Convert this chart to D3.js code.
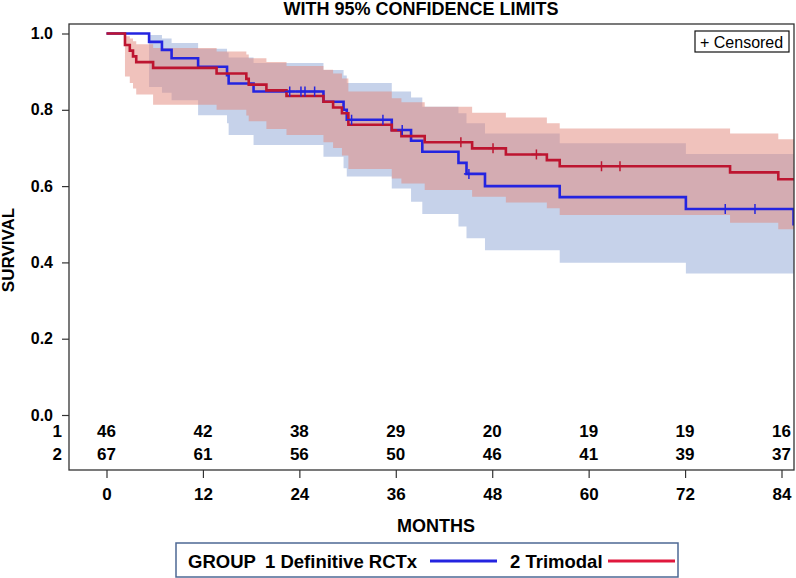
<!DOCTYPE html>
<html>
<head>
<meta charset="utf-8">
<script src="https://cdn.jsdelivr.net/npm/d3@7"></script>
<style>
  body { margin: 0; background: #fff; }
  svg { font-family: "Liberation Sans", Arial, sans-serif; }
</style>
</head>
<body>
<div class="km-container"></div>
<script>
// at-risk table
const months = [0, 12, 24, 36, 48, 60, 72, 84]
const atRisk1 = [46, 42, 38, 29, 20, 19, 19, 16]
const atRisk2 = [67, 61, 56, 50, 46, 41, 39, 37]
const yTicks = [0, 0.2, 0.4, 0.6, 0.8, 1.0]

// group 1 - Definitive RCTx (step values)
const blueTime = [0, 5.3, 6.9, 8.1, 11.4, 15.0, 15.2, 18.3, 27.0, 29.5, 29.9, 35.5, 37.9, 39.3, 43.8, 44.8, 47.1, 56.4, 72.1, 85.5]
const blueSurv = [1, 0.978, 0.957, 0.935, 0.913, 0.891, 0.869, 0.848, 0.821, 0.800, 0.774, 0.747, 0.719, 0.690, 0.661, 0.632, 0.600, 0.571, 0.540, 0.500]
const blueLow  = [1, 0.86, 0.845, 0.825, 0.786, 0.765, 0.734, 0.708, 0.677, 0.647, 0.625, 0.594, 0.559, 0.527, 0.494, 0.463, 0.432, 0.399, 0.371, 0.33]
const blueUp   = [1, 0.996, 0.987, 0.975, 0.96, 0.95, 0.937, 0.923, 0.904, 0.89, 0.87, 0.848, 0.832, 0.808, 0.791, 0.765, 0.738, 0.712, 0.684, 0.65]
const blueCensor = [22.8, 24.2, 24.7, 25.9, 30.5, 34.4, 36.8, 45.1, 77.0, 80.7]

// group 2 - Trimodal
const redTime = [0, 2.3, 2.9, 3.3, 3.7, 5.8, 13.7, 17.4, 17.7, 19.9, 22.4, 27.0, 28.2, 29.3, 30.1, 35.5, 36.7, 39.6, 45.5, 49.7, 54.8, 56.4, 77.6, 83.6]
const redSurv = [1, 0.970, 0.955, 0.940, 0.925, 0.910, 0.895, 0.881, 0.866, 0.851, 0.836, 0.821, 0.806, 0.791, 0.761, 0.746, 0.731, 0.715, 0.699, 0.683, 0.668, 0.652, 0.636, 0.618]
const redLow  = [1, 0.887, 0.87, 0.856, 0.84, 0.813, 0.80, 0.785, 0.77, 0.75, 0.734, 0.715, 0.70, 0.68, 0.645, 0.62, 0.607, 0.59, 0.572, 0.557, 0.542, 0.524, 0.504, 0.487]
const redUp   = [1, 0.993, 0.987, 0.98, 0.972, 0.962, 0.953, 0.945, 0.935, 0.925, 0.915, 0.905, 0.895, 0.882, 0.848, 0.83, 0.82, 0.808, 0.792, 0.78, 0.765, 0.751, 0.738, 0.723]
const redCensor = [44.1, 48.1, 53.5, 61.6, 63.9]

const blueLine = '#2424e0'
const redLine = '#bd1530'

function steps(time, surv, low, up, tEnd) {
    const rows = time.map((t, i) => ({ t: t, s: surv[i], lo: low[i], hi: up[i] }))
    const last = rows[rows.length - 1]
    rows.push({ t: tEnd, s: last.s, lo: last.lo, hi: last.hi })
    return rows
}

function survAt(time, surv, t) {
    let v = surv[0]
    time.forEach((tt, i) => { if (tt <= t) v = surv[i] })
    return v
}

function ready() {
    const W = 796, H = 578
    const frame = { left: 69, top: 24, right: 794, bottom: 470 }

    const xScale = d3.scaleLinear().domain([0, 84]).range([106.5, 781.5])
    const yScale = d3.scaleLinear().domain([0, 1]).range([415, 33.5])

    const svg = d3.select('.km-container')
        .append('svg')
        .attr('width', W)
        .attr('height', H)

    svg.append('defs').append('clipPath').attr('id', 'plotclip')
        .append('rect')
        .attr('x', frame.left).attr('y', frame.top)
        .attr('width', frame.right - frame.left)
        .attr('height', frame.bottom - frame.top)

    // Title.
    svg.append('text')
        .attr('x', 421).attr('y', 15)
        .attr('text-anchor', 'middle')
        .style('font-weight', 'bold').style('font-size', '18px')
        .text('WITH 95% CONFIDENCE LIMITS')

    const plot = svg.append('g').attr('clip-path', 'url(#plotclip)')

    const blueData = steps(blueTime, blueSurv, blueLow, blueUp, 90)
    const redData = steps(redTime, redSurv, redLow, redUp, 90)

    const band = d3.area()
        .curve(d3.curveStepAfter)
        .x(d => xScale(d.t))
        .y0(d => yScale(d.lo))
        .y1(d => yScale(d.hi))

    const line = d3.line()
        .curve(d3.curveStepAfter)
        .x(d => xScale(d.t))
        .y(d => yScale(d.s))

    // Confidence bands.
    plot.append('path').datum(blueData)
        .attr('d', band)
        .style('fill', '#c6d2ea')
    plot.append('path').datum(redData)
        .attr('d', band)
        .style('fill', '#e1857a')
        .style('opacity', 0.5)

    // Survival curves.
    plot.append('path').datum(blueData)
        .attr('d', line)
        .style('fill', 'none').style('stroke', blueLine).style('stroke-width', 2.6)
    plot.append('path').datum(redData)
        .attr('d', line)
        .style('fill', 'none').style('stroke', redLine).style('stroke-width', 2.6)

    // Censor marks.
    const censors = blueCensor.map(t => ({ t: t, s: survAt(blueTime, blueSurv, t), c: blueLine }))
        .concat(redCensor.map(t => ({ t: t, s: survAt(redTime, redSurv, t), c: redLine })))

    const marks = plot.selectAll('.censor')
        .data(censors)
        .enter()
        .append('g')
        .attr('class', 'censor')
        .attr('transform', d => `translate(${xScale(d.t)}, ${yScale(d.s)})`)
    marks.append('line')
        .attr('y1', -5).attr('y2', 5)
        .style('stroke', d => d.c).style('stroke-width', 1.5)
    marks.append('line')
        .attr('x1', -5).attr('x2', 5)
        .style('stroke', d => d.c).style('stroke-width', 1.5)

    // Frame.
    svg.append('rect')
        .attr('x', frame.left).attr('y', frame.top)
        .attr('width', frame.right - frame.left)
        .attr('height', frame.bottom - frame.top)
        .style('fill', 'none').style('stroke', '#333').style('stroke-width', 1.3)

    // Y axis.
    const yAxis = svg.append('g')
        .attr('transform', `translate(${frame.left}, 0)`)
        .call(d3.axisLeft(yScale).tickValues(yTicks).tickFormat(d3.format('.1f')).tickSize(7).tickPadding(9))
    yAxis.select('.domain').remove()
    yAxis.selectAll('line').style('stroke', '#333').style('stroke-width', 1.2)
    yAxis.selectAll('text')
        .style('font-family', '"Liberation Sans", Arial, sans-serif')
        .style('font-size', '16px').style('font-weight', 'bold').style('fill', '#000')

    // X axis.
    const xAxis = svg.append('g')
        .attr('transform', `translate(0, ${frame.bottom})`)
        .call(d3.axisBottom(xScale).tickValues(months).tickSize(8).tickPadding(10))
    xAxis.select('.domain').remove()
    xAxis.selectAll('line').style('stroke', '#333').style('stroke-width', 1.2)
    xAxis.selectAll('text')
        .style('font-family', '"Liberation Sans", Arial, sans-serif')
        .style('font-size', '17px').style('font-weight', 'bold').style('fill', '#000')

    // Axis labels.
    svg.append('text')
        .attr('x', 436).attr('y', 532)
        .attr('text-anchor', 'middle')
        .style('font-weight', 'bold').style('font-size', '18px')
        .text('MONTHS')
    svg.append('text')
        .attr('transform', 'translate(14, 250) rotate(-90)')
        .attr('text-anchor', 'middle')
        .style('font-weight', 'bold').style('font-size', '17px')
        .text('SURVIVAL')

    // At-risk table.
    const riskRows = [{ label: '1', vals: atRisk1, y: 437 }, { label: '2', vals: atRisk2, y: 459.5 }]
    riskRows.forEach(row => {
        svg.append('text')
            .attr('x', 62).attr('y', row.y)
            .attr('text-anchor', 'end')
            .style('font-weight', 'bold').style('font-size', '17px')
            .text(row.label)
        svg.selectAll(null)
            .data(row.vals)
            .enter()
            .append('text')
            .attr('x', (d, i) => xScale(months[i]))
            .attr('y', row.y)
            .attr('text-anchor', 'middle')
            .style('font-weight', 'bold').style('font-size', '17px')
            .text(d => d)
    })

    // Censored inset.
    svg.append('rect')
        .attr('x', 695).attr('y', 31).attr('width', 94).attr('height', 21)
        .style('fill', '#fff').style('stroke', '#111').style('stroke-width', 1.2)
    svg.append('text')
        .attr('x', 700).attr('y', 47.5)
        .style('font-size', '16px')
        .text('+ Censored')

    // Legend.
    const legend = svg.append('g')
    legend.append('rect')
        .attr('x', 176).attr('y', 543).attr('width', 502).attr('height', 34)
        .style('fill', '#fff').style('stroke', '#4d6894').style('stroke-width', 1.5)
    const legendItems = [
        { text: 'GROUP', x: 188 },
        { text: '1 Definitive RCTx', x: 265 },
        { text: '2 Trimodal', x: 510 }
    ]
    legend.selectAll('.legtext')
        .data(legendItems)
        .enter()
        .append('text')
        .attr('class', 'legtext')
        .attr('x', d => d.x).attr('y', 568)
        .style('font-weight', 'bold').style('font-size', '18.5px')
        .text(d => d.text)
    legend.append('line')
        .attr('x1', 430).attr('x2', 497).attr('y1', 561).attr('y2', 561)
        .style('stroke', blueLine).style('stroke-width', 3)
    legend.append('line')
        .attr('x1', 608).attr('x2', 675).attr('y1', 561).attr('y2', 561)
        .style('stroke', '#e0183d').style('stroke-width', 3)
}

ready()
</script>
</body>
</html>
